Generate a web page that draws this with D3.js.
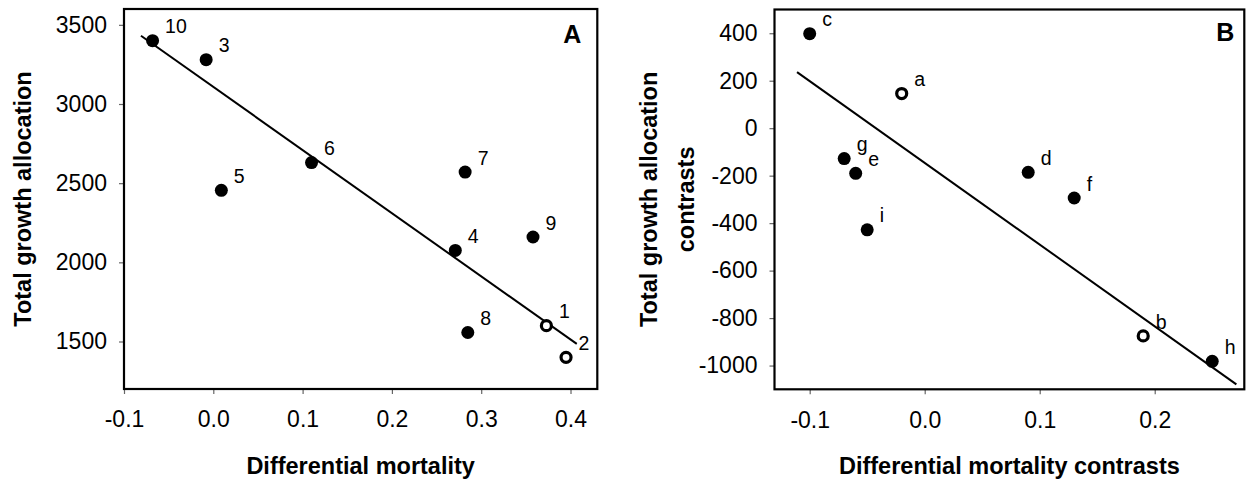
<!DOCTYPE html>
<html>
<head>
<meta charset="utf-8">
<script src="https://cdn.jsdelivr.net/npm/d3@7"></script>
<style>
  body { margin: 0; background: #fff; }
  svg text { font-family: "Liberation Sans", Arial, sans-serif; fill: #000; }
</style>
</head>
<body>
<div id="chart"></div>
<script>
// Panel A: populations
const labelsA = ["10", "3", "6", "5", "7", "9", "4", "8", "1", "2"];
const mortalityA = [-0.068, -0.008, 0.110, 0.009, 0.282, 0.358, 0.271, 0.285, 0.373, 0.395];
const growthA = [3400, 3280, 2630, 2455, 2570, 2160, 2075, 1557, 1600, 1400];
const openA = [false, false, false, false, false, false, false, false, true, true];
const fitXA = [-0.081, 0.407];
const fitYA = [3431, 1485];
const xTicksA = [-0.1, 0.0, 0.1, 0.2, 0.3, 0.4];
const yTicksA = [1500, 2000, 2500, 3000, 3500];

// Panel B: contrasts
const labelsB = ["c", "a", "g", "e", "i", "d", "f", "b", "h"];
const mortalityB = [-0.100, -0.020, -0.070, -0.060, -0.050, 0.090, 0.130, 0.190, 0.250];
const growthB = [398, 146, -128, -190, -428, -186, -294, -875, -982];
const openB = [false, true, false, false, false, false, false, true, false];
const fitXB = [-0.111, 0.271];
const fitYB = [236, -1079];
const xTicksB = [-0.1, 0.0, 0.1, 0.2];
const yTicksB = [-1000, -800, -600, -400, -200, 0, 200, 400];

const W = 1248, H = 480;
const svg = d3.select("#chart").append("svg")
  .attr("width", W)
  .attr("height", H);

function drawPanel(p) {
  const x = d3.scaleLinear().domain(p.xDomain).range([p.left, p.right]);
  const y = d3.scaleLinear().domain(p.yDomain).range([p.bottom, p.top]);
  const g = svg.append("g");

  // axes (ticks only, frame drawn separately)
  const xAxis = g.append("g")
    .attr("transform", `translate(0,${p.bottom})`)
    .call(d3.axisBottom(x).tickValues(p.xTicks).tickSize(5).tickPadding(17)
      .tickFormat(d => d.toFixed(1)));
  const yAxis = g.append("g")
    .attr("transform", `translate(${p.left},0)`)
    .call(d3.axisLeft(y).tickValues(p.yTicks).tickSize(5).tickPadding(12)
      .tickFormat(d => String(d)));
  [xAxis, yAxis].forEach(a => {
    a.select(".domain").remove();
    a.selectAll(".tick line").attr("stroke", "#666").attr("stroke-width", 1.2);
    a.selectAll(".tick text").style("font-size", "23px").attr("fill", "#000");
  });

  // frame
  g.append("rect")
    .attr("x", p.left).attr("y", p.top)
    .attr("width", p.right - p.left).attr("height", p.bottom - p.top)
    .attr("fill", "none").attr("stroke", "#000").attr("stroke-width", 2.2);

  // regression line
  g.append("line")
    .attr("x1", x(p.fitX[0])).attr("y1", y(p.fitY[0]))
    .attr("x2", x(p.fitX[1])).attr("y2", y(p.fitY[1]))
    .attr("stroke", "#000").attr("stroke-width", 2);

  const pts = p.labels.map((l, i) => ({ l, x: p.xs[i], y: p.ys[i], open: p.open[i] }));

  g.selectAll("circle.pt")
    .data(pts)
    .join("circle")
    .attr("class", "pt")
    .attr("cx", d => x(d.x))
    .attr("cy", d => y(d.y))
    .attr("r", d => d.open ? 5 : 6.5)
    .attr("fill", d => d.open ? "#fff" : "#000")
    .attr("stroke", d => d.open ? "#000" : "none")
    .attr("stroke-width", 3.2);

  g.selectAll("text.lbl")
    .data(pts)
    .join("text")
    .attr("class", "lbl")
    .attr("x", d => x(d.x) + 12.5)
    .attr("y", d => y(d.y) - 7.3)
    .style("font-size", "19.5px")
    .text(d => d.l);

  // panel letter
  g.append("text")
    .attr("x", p.right - p.letterDx)
    .attr("y", p.top + p.letterDy)
    .attr("text-anchor", "end")
    .style("font-size", "25px")
    .style("font-weight", "bold")
    .text(p.letter);

  // x title
  g.append("text")
    .attr("x", (p.left + p.right) / 2)
    .attr("y", 474)
    .attr("text-anchor", "middle")
    .style("font-size", "23.5px")
    .style("font-weight", "bold")
    .text(p.xTitle);

  // y title (one or two lines)
  const cy = (p.top + p.bottom) / 2;
  p.yTitle.forEach((t, i) => {
    g.append("text")
      .attr("transform", `translate(${p.yTitleX[i]},${cy}) rotate(-90)`)
      .attr("text-anchor", "middle")
      .style("font-size", "23.5px")
      .style("font-weight", "bold")
      .text(t);
  });
}

drawPanel({
  left: 124, right: 597.3, top: 9, bottom: 389,
  xDomain: [-0.1, 0.43], yDomain: [1200, 3600],
  xTicks: xTicksA, yTicks: yTicksA,
  labels: labelsA, xs: mortalityA, ys: growthA, open: openA,
  fitX: fitXA, fitY: fitYA,
  letter: "A", letterDx: 16, letterDy: 34,
  xTitle: "Differential mortality",
  yTitle: ["Total growth allocation"], yTitleX: [31]
});

drawPanel({
  left: 774.5, right: 1244.3, top: 9.5, bottom: 389.3,
  xDomain: [-0.1306, 0.2779], yDomain: [-1100, 500],
  xTicks: xTicksB, yTicks: yTicksB,
  labels: labelsB, xs: mortalityB, ys: growthB, open: openB,
  fitX: fitXB, fitY: fitYB,
  letter: "B", letterDx: 10, letterDy: 31,
  xTitle: "Differential mortality contrasts",
  yTitle: ["Total growth allocation", "contrasts"], yTitleX: [657, 694]
});
</script>
</body>
</html>
